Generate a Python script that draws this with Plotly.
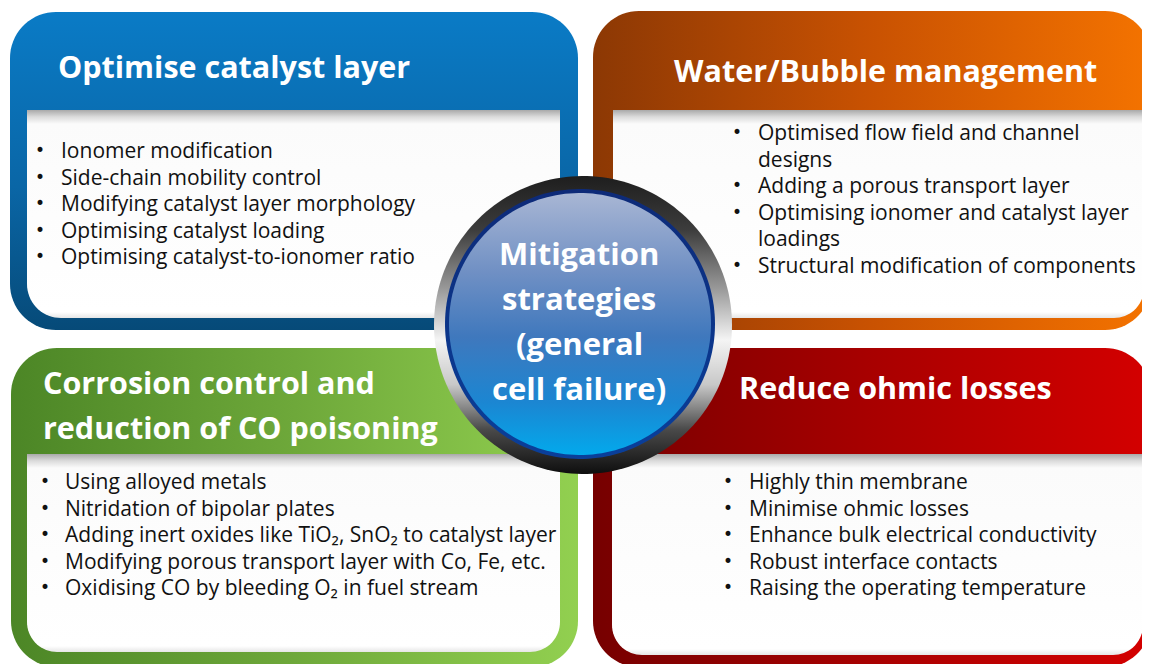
import numpy as np
import plotly.graph_objects as go

W, H = 1150, 664
PAD = 8  # the page body has an 8px margin; the figure fills the rest of the window

# ---------------- content ----------------
center_lines = ["Mitigation", "strategies", "(general", "cell failure)"]

catalyst_title = ["Optimise catalyst layer"]
catalyst_items = [
    ["Ionomer modification"],
    ["Side-chain mobility control"],
    ["Modifying catalyst layer morphology"],
    ["Optimising catalyst loading"],
    ["Optimising catalyst-to-ionomer ratio"],
]

water_title = ["Water/Bubble management"]
water_items = [
    ["Optimised flow field and channel", "designs"],
    ["Adding a porous transport layer"],
    ["Optimising ionomer and catalyst layer", "loadings"],
    ["Structural modification of components"],
]

corrosion_title = ["Corrosion control and", "reduction of CO poisoning"]
corrosion_items = [
    ["Using alloyed metals"],
    ["Nitridation of bipolar plates"],
    ["Adding inert oxides like TiO₂, SnO₂ to catalyst layer"],
    ["Modifying porous transport layer with Co, Fe, etc."],
    ["Oxidising CO by bleeding O₂ in fuel stream"],
]

ohmic_title = ["Reduce ohmic losses"]
ohmic_items = [
    ["Highly thin membrane"],
    ["Minimise ohmic losses"],
    ["Enhance bulk electrical conductivity"],
    ["Robust interface contacts"],
    ["Raising the operating temperature"],
]

# ---------------- styling ----------------
TITLE_FONT = dict(family="Open Sans", size=30.5, color="white", weight="bold")
ITEM_FONT = dict(family="Open Sans", size=21, color="#111111")
BULLET_FONT = dict(family="DejaVu Sans", size=17, color="#111111")
CENTER_FONT = dict(family="Open Sans", size=31, color="white", weight="bold")


def rounded_rect(x0, y0, x1, y1, r_tl, r_tr, r_br, r_bl, n=18):
    xs, ys = [], []

    def arc(cx, cy, r, a0, a1):
        if r <= 0:
            xs.append(cx)
            ys.append(cy)
            return
        for t in np.linspace(a0, a1, n):
            xs.append(cx + r * np.cos(t))
            ys.append(cy + r * np.sin(t))

    arc(x0 + r_tl, y0 + r_tl, r_tl, np.pi, 1.5 * np.pi)
    arc(x1 - r_tr, y0 + r_tr, r_tr, 1.5 * np.pi, 2 * np.pi)
    arc(x1 - r_br, y1 - r_br, r_br, 0, 0.5 * np.pi)
    arc(x0 + r_bl, y1 - r_bl, r_bl, 0.5 * np.pi, np.pi)
    xs.append(xs[0])
    ys.append(ys[0])
    return xs, ys


def circle(cx, cy, r, n=180):
    t = np.linspace(0, 2 * np.pi, n)
    return list(cx + r * np.cos(t)), list(cy + r * np.sin(t))


fig = go.Figure()


def add_fill(xs, ys, gtype, colorscale, start=None, stop=None):
    g = dict(type=gtype, colorscale=colorscale)
    if start is not None:
        g["start"] = start
        g["stop"] = stop
    fig.add_trace(go.Scatter(
        x=xs, y=ys, mode="none", fill="toself",
        fillcolor=colorscale[len(colorscale) // 2][1],
        fillgradient=g, hoverinfo="skip", showlegend=False,
    ))


def inner_box(x0, y0, x1, y1, r_br, r_bl):
    xs, ys = rounded_rect(x0, y0, x1, y1, 0, 0, r_br, r_bl)
    h = y1 - y0
    s = 14.0 / h
    add_fill(xs, ys, "vertical",
             [[0, "#a9a9a9"], [s * 0.5, "#dcdcdc"], [s, "#fbfbfb"], [1 - 6.0 / h, "#ffffff"], [1, "#e6e6e6"]],
             start=y0, stop=y1)


# panels
R = 46
# blue (top-left)
xs, ys = rounded_rect(10, 12, 578, 330, R, R, R, R)
add_fill(xs, ys, "vertical", [[0, "#0a7bc6"], [0.55, "#0a66a6"], [1, "#064a78"]], start=12, stop=330)
inner_box(27, 110, 560, 318, 0, 34)

# orange (top-right)
xs, ys = rounded_rect(593, 11, 1151, 330, R, R, R, R)
add_fill(xs, ys, "horizontal", [[0, "#8c3804"], [0.5, "#c95202"], [1, "#f47300"]], start=593, stop=1151)
inner_box(613, 110, 1144, 318, 30, 30)

# green (bottom-left)
xs, ys = rounded_rect(11, 348, 578, 667, R, R, R, R)
add_fill(xs, ys, "horizontal", [[0, "#4c8626"], [0.5, "#6ea83a"], [1, "#92d050"]], start=11, stop=578)
inner_box(27, 454, 560, 652, 30, 30)

# red (bottom-right)
xs, ys = rounded_rect(593, 348, 1151, 667, R, R, R, R)
add_fill(xs, ys, "horizontal", [[0, "#760000"], [0.5, "#a80000"], [1, "#d40000"]], start=593, stop=1151)
inner_box(612, 454, 1143, 655, 30, 30)

# central disc
CX, CY = 582, 325
xs, ys = circle(CX + 1, CY, 149)
add_fill(xs, ys, "vertical",
         [[0, "#1e1e1e"], [0.18, "#3c3c3c"], [0.38, "#9a9a9a"], [0.55, "#f4f4f4"],
          [0.7, "#c8c8c8"], [0.85, "#4a4a4a"], [1, "#0e0e0e"]],
         start=CY - 149, stop=CY + 149)
xs, ys = circle(CX - 2, CY - 1, 135)
add_fill(xs, ys, "vertical", [[0, "#0d2a78"], [1, "#0a3f9a"]], start=CY - 136, stop=CY + 134)
xs, ys = circle(CX - 2, CY - 1, 131)
add_fill(xs, ys, "vertical",
         [[0, "#a8b6d4"], [0.3, "#7090c4"], [0.55, "#3f78bd"], [0.8, "#1b86d2"], [1, "#03a9ec"]],
         start=CY - 132, stop=CY + 130)

annotations = []


def txt(text, x, y, font, xanchor="left"):
    annotations.append(dict(
        text=text, x=x, y=y, xref="x", yref="y", xanchor=xanchor, yanchor="middle",
        showarrow=False, font=font,
    ))


def block(title_lines, title_x, title_y0, title_step, items, bullet_x, text_x, y0, step, title_anchor="left"):
    for i, line in enumerate(title_lines):
        txt(line, title_x, title_y0 + i * title_step, TITLE_FONT, title_anchor)
    k = 0
    for item in items:
        txt("•", bullet_x, y0 + k * step, BULLET_FONT, "center")
        for line in item:
            txt(line, text_x, y0 + k * step, ITEM_FONT)
            k += 1


block(catalyst_title, 56, 66, 0, catalyst_items, 40, 59, 150, 26.6)
block(water_title, 885, 70, 0, water_items, 737, 756, 132, 26.6, title_anchor="center")
block(corrosion_title, 41, 382, 45, corrosion_items, 45, 63, 481, 26.6)
block(ohmic_title, 737, 387, 0, ohmic_items, 728, 747, 481, 26.6)

for i, line in enumerate(center_lines):
    txt(line, 579, 253 + i * 45, CENTER_FONT, "center")

fig.update_layout(
    width=W - PAD, height=H - PAD,
    margin=dict(l=0, r=0, t=0, b=0),
    paper_bgcolor="white", plot_bgcolor="white",
    xaxis=dict(range=[PAD, W], visible=False, fixedrange=True),
    yaxis=dict(range=[H, PAD], visible=False, fixedrange=True),
    showlegend=False,
    annotations=annotations,
)

fig.write_html("out.html", config={"displayModeBar": False})
